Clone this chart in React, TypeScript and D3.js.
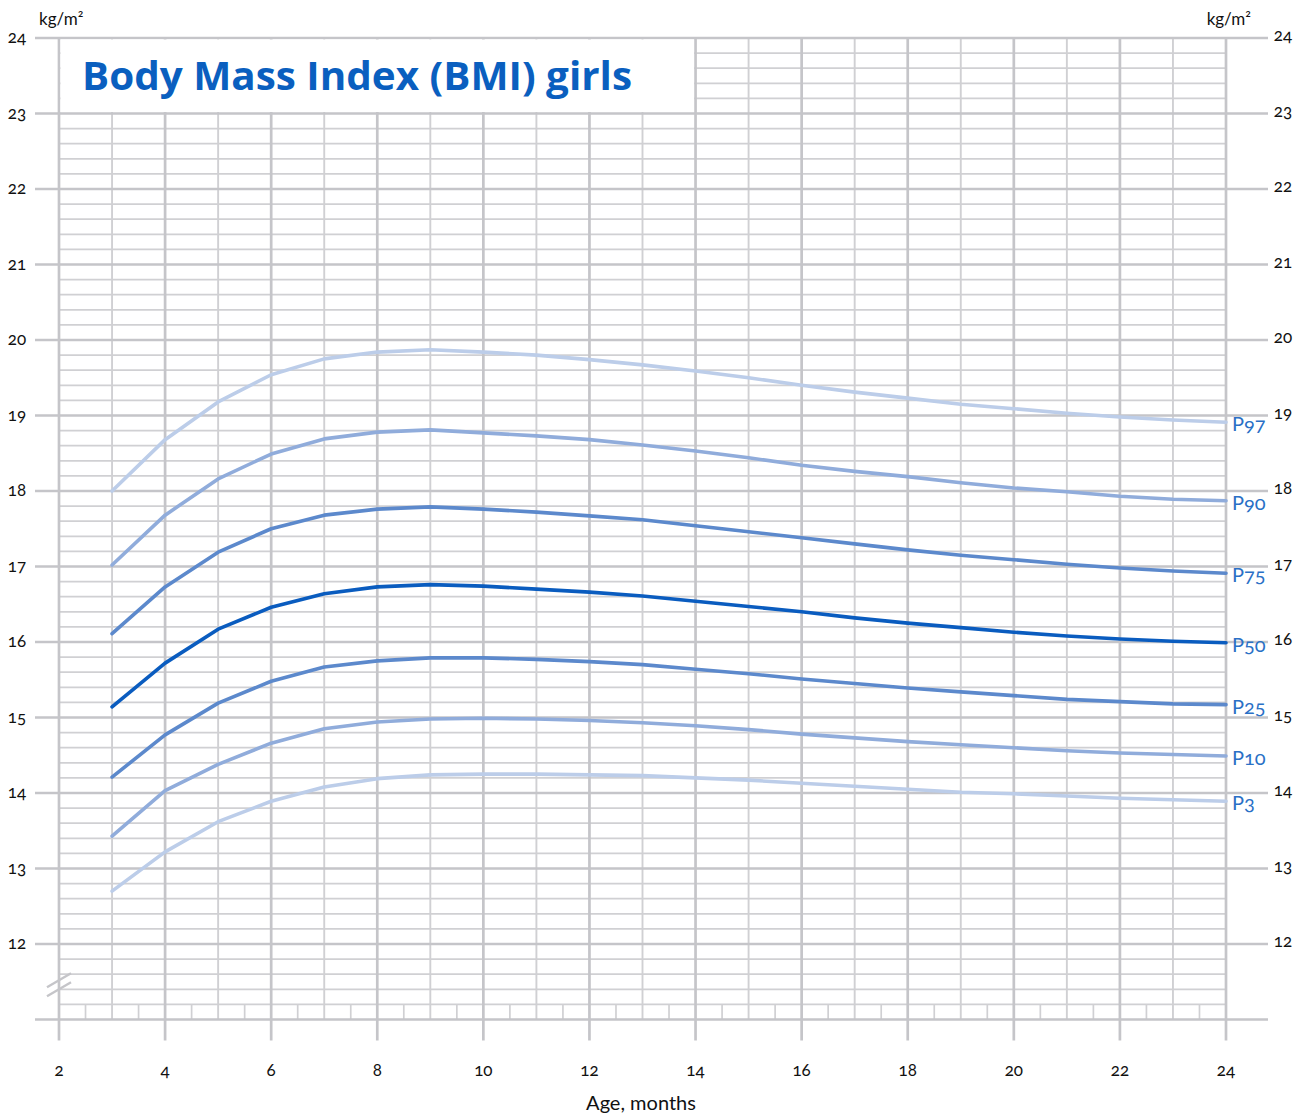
import * as d3 from 'd3';

const W = 1309;
const H = 1120;

// ages in months
const months = [3, 4, 5, 6, 7, 8, 9, 10, 11, 12, 13, 14, 15, 16, 17, 18, 19, 20, 21, 22, 23, 24];

// percentile curves, kg/m²
const p97 = [18.0, 18.68, 19.18, 19.54, 19.75, 19.84, 19.87, 19.84, 19.8, 19.74, 19.67, 19.59, 19.5, 19.4, 19.31, 19.23, 19.15, 19.09, 19.03, 18.98, 18.94, 18.91];
const p90 = [17.02, 17.68, 18.16, 18.49, 18.69, 18.78, 18.81, 18.77, 18.73, 18.68, 18.61, 18.53, 18.44, 18.34, 18.26, 18.19, 18.11, 18.04, 17.99, 17.93, 17.89, 17.87];
const p75 = [16.11, 16.73, 17.19, 17.5, 17.68, 17.76, 17.79, 17.76, 17.72, 17.67, 17.62, 17.54, 17.46, 17.38, 17.3, 17.22, 17.15, 17.09, 17.03, 16.98, 16.94, 16.91];
const p50 = [15.14, 15.72, 16.17, 16.46, 16.64, 16.73, 16.76, 16.74, 16.7, 16.66, 16.61, 16.54, 16.47, 16.4, 16.32, 16.25, 16.19, 16.13, 16.08, 16.04, 16.01, 15.99];
const p25 = [14.21, 14.77, 15.19, 15.48, 15.67, 15.75, 15.79, 15.79, 15.77, 15.74, 15.7, 15.64, 15.58, 15.51, 15.45, 15.39, 15.34, 15.29, 15.24, 15.21, 15.18, 15.17];
const p10 = [13.43, 14.03, 14.38, 14.66, 14.85, 14.94, 14.98, 14.99, 14.98, 14.96, 14.93, 14.89, 14.84, 14.78, 14.73, 14.68, 14.64, 14.6, 14.56, 14.53, 14.51, 14.49];
const p3 = [12.7, 13.22, 13.62, 13.89, 14.08, 14.19, 14.24, 14.25, 14.25, 14.24, 14.23, 14.2, 14.17, 14.13, 14.09, 14.05, 14.01, 13.99, 13.96, 13.93, 13.91, 13.89];

const seriesNames = ['P97', 'P90', 'P75', 'P50', 'P25', 'P10', 'P3'];
const seriesValues = [p97, p90, p75, p50, p25, p10, p3];
const seriesColors = ['#bccde9', '#90acdb', '#5c89cc', '#0a5cbf', '#5c89cc', '#90acdb', '#bccde9'];

const yTicks = [12, 13, 14, 15, 16, 17, 18, 19, 20, 21, 22, 23, 24];
const xTicks = [2, 4, 6, 8, 10, 12, 14, 16, 18, 20, 22, 24];

const GRID_MAJOR = '#c5c5c9';
const GRID_MINOR = '#d0d0d3';
const FONT = 'Lato, "Open Sans", sans-serif';
const OLD = { fontVariantNumeric: 'oldstyle-nums' };

export default function App() {
  const x = d3.scaleLinear().domain([2, 24]).range([59, 1226]);
  const y = d3.scaleLinear().domain([11, 24]).range([1019.5, 38]);

  const line = d3
    .line<number>()
    .x((_, i) => x(months[i]))
    .y((d) => y(d))
    .curve(d3.curveLinear);

  const minorH = d3.range(56, 120).map((k) => k / 5).filter((v) => v % 1 !== 0);
  const oddMonths = d3.range(3, 24, 2);
  const halfMonths = d3.range(2.5, 24, 1);

  const x0 = x(2);
  const x1 = x(24);
  const yBottom = y(11);
  const yTop = y(24);

  return (
    <svg
      width={W}
      height={H}
      viewBox={`0 0 ${W} ${H}`}
      style={{ position: 'absolute', left: 0, top: 0, background: '#fff' }}
      fontFamily={FONT}
    >
      {/* minor horizontal grid */}
      {minorH.map((v) => (
        <line key={`mh${v}`} x1={x0} x2={x1} y1={y(v)} y2={y(v)} stroke={GRID_MINOR} strokeWidth={1.7} />
      ))}
      {/* odd month verticals */}
      {oddMonths.map((m) => (
        <line key={`om${m}`} x1={x(m)} x2={x(m)} y1={yTop} y2={yBottom} stroke={GRID_MINOR} strokeWidth={1.9} />
      ))}
      {/* half month ticks in bottom band */}
      {halfMonths.map((m) => (
        <line key={`hm${m}`} x1={x(m)} x2={x(m)} y1={y(11.2)} y2={yBottom} stroke={GRID_MINOR} strokeWidth={1.7} />
      ))}
      {/* major horizontal */}
      {[11, ...yTicks].map((v) => (
        <line key={`MH${v}`} x1={35} x2={1268} y1={y(v)} y2={y(v)} stroke={GRID_MAJOR} strokeWidth={2.5} />
      ))}
      {/* major verticals */}
      {xTicks.map((m) => (
        <line key={`MV${m}`} x1={x(m)} x2={x(m)} y1={yTop} y2={yBottom + 21} stroke={GRID_MAJOR} strokeWidth={2.7} />
      ))}

      {/* title box */}
      <rect
        x={x(2) + 1.5}
        y={y(24) + 1.5}
        width={x(14) - x(2) - 3}
        height={y(23) - y(24) - 3}
        fill="#fff"
      />
      <text x={82} y={90} fill="#0a5fbf" fontSize={39} fontWeight={700} fontFamily='"Open Sans", Lato, sans-serif' textLength={550} lengthAdjust="spacingAndGlyphs">
        Body Mass Index (BMI) girls
      </text>

      {/* axis break */}
      <line x1={x0 - 12} x2={x0 + 12} y1={y(11.52) + 7} y2={y(11.52) - 7} stroke={GRID_MAJOR} strokeWidth={2.4} />
      <line x1={x0 - 12} x2={x0 + 12} y1={y(11.4) + 7} y2={y(11.4) - 7} stroke={GRID_MAJOR} strokeWidth={2.4} />

      {/* percentile curves */}
      {seriesValues.map((vals, i) => (
        <path
          key={seriesNames[i]}
          d={line(vals) ?? ''}
          fill="none"
          stroke={seriesColors[i]}
          strokeWidth={3.6}
          strokeLinejoin="round"
          strokeLinecap="round"
        />
      ))}
      {seriesValues.map((vals, i) => (
        <text
          key={`l${seriesNames[i]}`}
          x={x1 + 6}
          y={y(vals[vals.length - 1]) + 9}
          fill="#2a70c6"
          fontSize={20}
          style={OLD}
        >
          {seriesNames[i]}
        </text>
      ))}

      {/* y tick labels */}
      {yTicks.map((v) => (
        <g key={`yt${v}`} fontSize={17} fill="#111" style={OLD}>
          <text x={17} y={y(v) + 5} textAnchor="middle">{v}</text>
          <text x={1283} y={y(v) + 3} textAnchor="middle">{v}</text>
        </g>
      ))}
      <text x={39} y={25} fontSize={17} fill="#111">kg/m²</text>
      <text x={1251} y={25} fontSize={17} fill="#111" textAnchor="end">kg/m²</text>

      {/* x tick labels */}
      {xTicks.map((m) => (
        <text key={`xt${m}`} x={x(m)} y={1076} fontSize={17} fill="#111" textAnchor="middle" style={OLD}>
          {m}
        </text>
      ))}
      <text x={641} y={1110} fontSize={20} fill="#111" textAnchor="middle">Age, months</text>
    </svg>
  );
}
